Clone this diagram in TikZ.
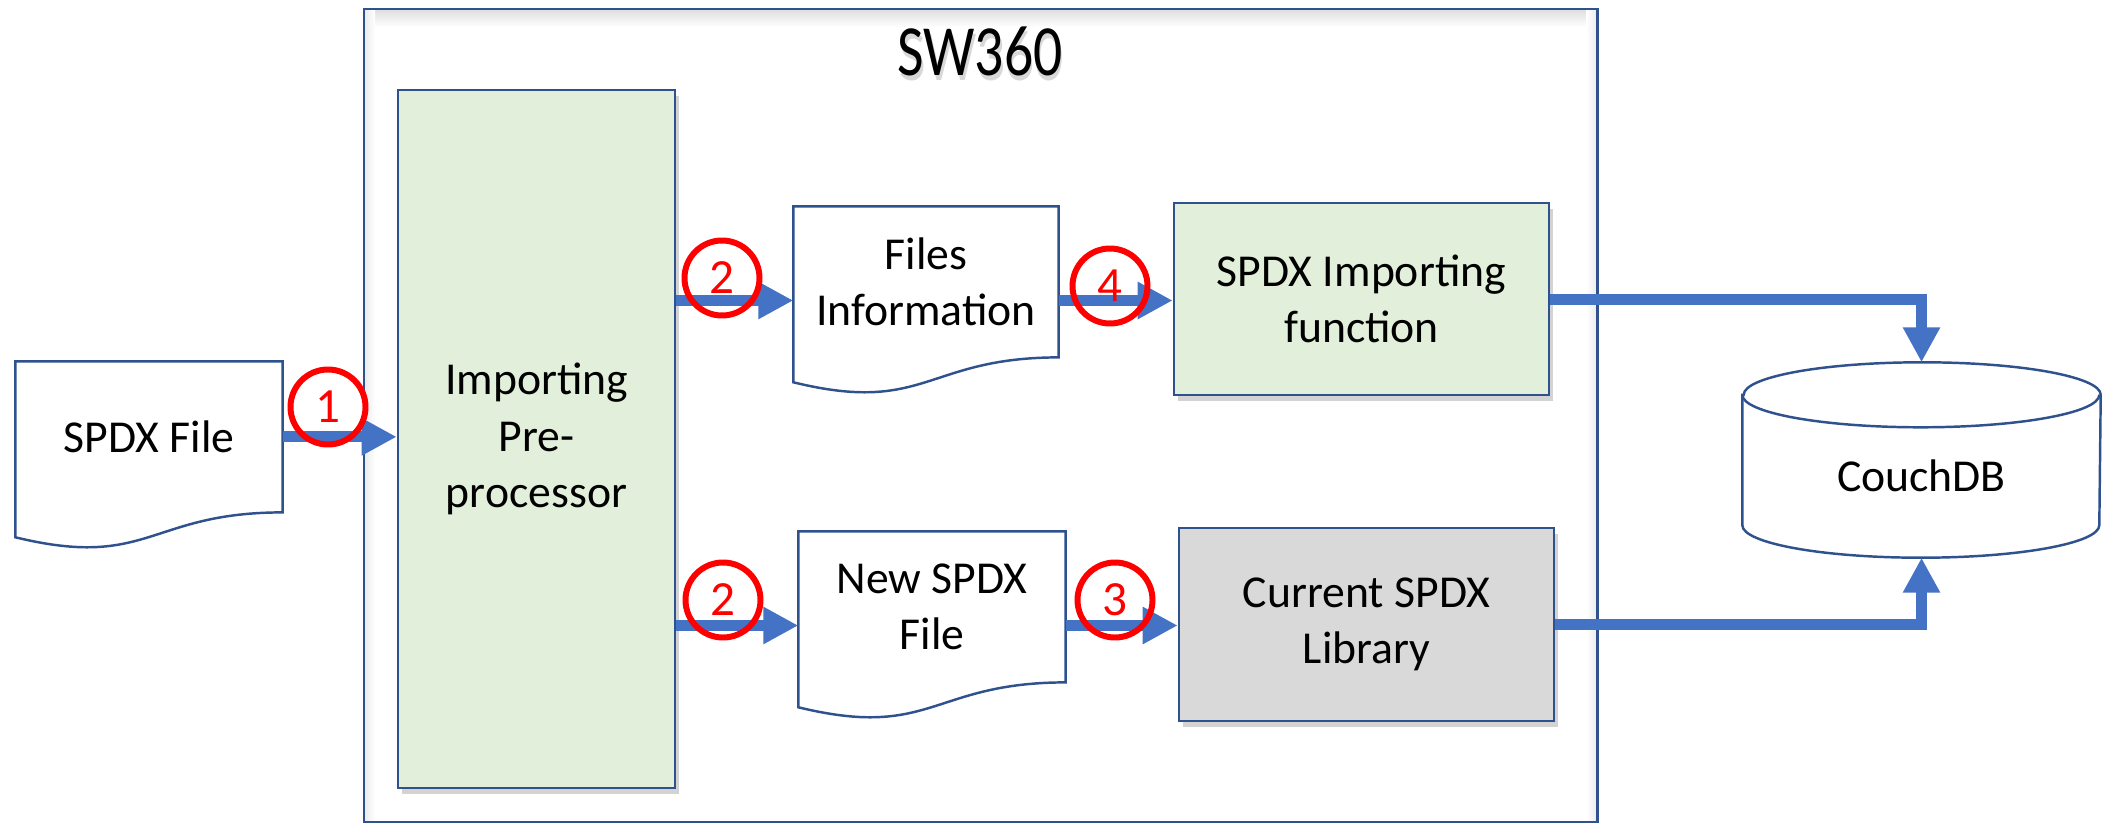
\documentclass[tikz,border=0pt]{standalone}
\usepackage{fontspec}
\setmainfont{Carlito}
\usetikzlibrary{arrows.meta,calc,shadows}
\definecolor{edgeblue}{HTML}{2F528F}
\definecolor{arrowblue}{HTML}{4472C4}
\definecolor{boxgreen}{HTML}{E2EFDA}
\definecolor{boxgray}{HTML}{D9D9D9}
\newcommand{\docoutline}[1]{%
  \draw[outline, fill=white] (#1.north west) -- (#1.north east)
    -- ($(#1.north east)!0.802!(#1.south east)$)
    .. controls ($(#1.north)!0.802!(#1.south)$) and ($(#1.north)!1.107!(#1.south)$) ..
    ($(#1.north west)!0.934!(#1.south west)$) -- cycle;}
\begin{document}
\begin{tikzpicture}[
  every node/.style={font=\fontsize{13}{16}\selectfont, align=center, inner sep=0pt},
  outline/.style={draw=edgeblue, line width=0.7pt},
  swbox/.style={rectangle, draw=edgeblue, line width=0.85pt},
  procbox/.style={rectangle, draw=edgeblue, line width=0.75pt,
    drop shadow={shadow xshift=0.04cm, shadow yshift=-0.06cm, opacity=0.35}},
  holder/.style={rectangle, inner sep=0pt},
  flow/.style={draw=arrowblue, line width=0.11cm, -{Triangle[length=0.35cm,width=0.35cm]}},
  stepmark/.style={circle, draw=red, line width=1.7pt, minimum size=0.75cm, text=red, inner sep=0pt,
    font=\fontsize{14}{16}\selectfont},
]
\useasboundingbox (0,0) rectangle (21.05,-8.23);

% SW360 container
\shade[top color=black!12, bottom color=white] (3.655,-0.105) rectangle (15.955,-0.27);
\shade[left color=black!7, right color=white] (3.655,-0.105) rectangle (3.75,-8.21);
\shade[left color=white, right color=black!7] (15.86,-0.105) rectangle (15.955,-8.21);
\node[swbox, minimum width=12.33cm, minimum height=8.13cm] (sw) at (9.805,-4.155) {};
\node[text=black!30, opacity=0.5] (titleshade) at (9.815,-0.56)
  {\fontsize{20.5}{24}\selectfont\scalebox{0.8}[1]{SW360}};
\node (title) at (9.80,-0.51) {\fontsize{20.5}{24}\selectfont\scalebox{0.8}[1]{SW360}};

% processing boxes
\node[procbox, fill=boxgreen, minimum width=2.77cm, minimum height=6.98cm] (pre) at (5.365,-4.39)
  {Importing\\Pre-\\processor};
\node[procbox, fill=boxgreen, minimum width=3.75cm, minimum height=1.92cm] (imp) at (13.615,-2.99)
  {SPDX Importing\\function};
\node[procbox, fill=boxgray, minimum width=3.75cm, minimum height=1.93cm] (lib) at (13.665,-6.245)
  {Current SPDX\\Library};

% documents
\node[holder, minimum width=2.66cm, minimum height=1.87cm] (spdx) at (1.49,-4.555) {};
\docoutline{spdx}
\node (spdxtxt) at ($(spdx.north)!0.401!(spdx.south)$) {SPDX File};

\node[holder, minimum width=2.64cm, minimum height=1.87cm] (files) at (9.26,-3.005) {};
\docoutline{files}
\node (filestxt) at ($(files.north)!0.401!(files.south)$) {Files\\Information};

\node[holder, minimum width=2.66cm, minimum height=1.87cm] (newspdx) at (9.32,-6.255) {};
\docoutline{newspdx}
\node (newspdxtxt) at ($(newspdx.north)!0.401!(newspdx.south)$) {New SPDX\\File};

% database
\node[holder, minimum width=3.57cm, minimum height=1.94cm] (db) at (19.215,-4.60) {};
\draw[outline, fill=white] ([yshift=-3.25mm]db.north west) -- ([yshift=3.25mm]db.south west)
  arc[start angle=180, end angle=360, x radius=1.785cm, y radius=0.325cm]
  -- ([yshift=-3.25mm]db.north east)
  arc[start angle=0, end angle=180, x radius=1.785cm, y radius=0.325cm] -- cycle;
\draw[outline] ([yshift=-3.25mm]db.north west)
  arc[start angle=180, end angle=360, x radius=1.785cm, y radius=0.325cm];
\node (dbtxt) at ([yshift=-1.6mm]db.center) {CouchDB};

% connectors
\draw[flow] (spdx.east |- spdxtxt) -- (pre.west |- spdxtxt);
\draw[flow] (files.west -| pre.east) -- (files.west);
\draw[flow] (newspdx.west -| pre.east) -- (newspdx.west);
\draw[flow] (files.east) -- (imp.west |- files.east);
\draw[flow] (newspdx.east) -- (lib.west |- newspdx.east);
\draw[flow] (imp.east) -| (db.north);
\draw[flow] (lib.east) -| (db.south);

% step markers
\node[stepmark] (m1) at (3.28,-4.07) {1};
\node[stepmark] (m2a) at (7.22,-2.78) {2};
\node[stepmark] (m4) at (11.10,-2.86) {4};
\node[stepmark] (m2b) at (7.23,-6.00) {2};
\node[stepmark] (m3) at (11.15,-6.00) {3};
\end{tikzpicture}
\end{document}
